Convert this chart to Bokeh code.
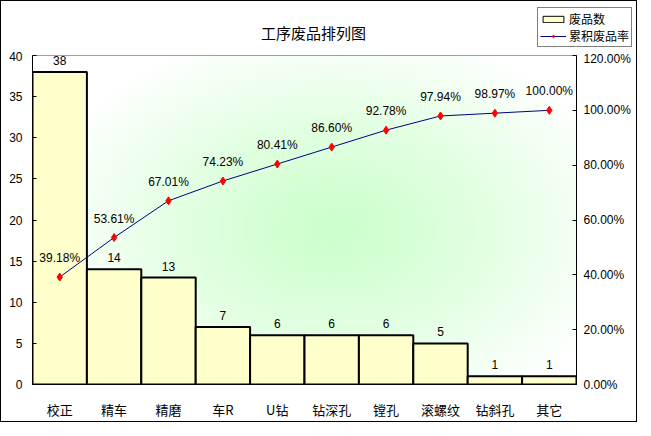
import numpy as np
from bokeh.plotting import figure
from bokeh.layouts import column
from bokeh.models import (ColumnDataSource, Range1d, FactorRange, LinearAxis,
                          FixedTicker, NumeralTickFormatter,
                          Legend, LegendItem, Label)
from bokeh.core.properties import value
from bokeh.embed import file_html
from bokeh.resources import INLINE

# ---- data ----
categories = ["校正", "精车", "精磨", "车R", "U钻", "钻深孔", "镗孔", "滚螺纹", "钻斜孔", "其它"]
counts = [38, 14, 13, 7, 6, 6, 6, 5, 1, 1]
cum_pct = [0.3918, 0.5361, 0.6701, 0.7423, 0.8041, 0.8660, 0.9278, 0.9794, 0.9897, 1.0000]
count_ticks = [0, 5, 10, 15, 20, 25, 30, 35, 40]
pct_ticks = [0.0, 0.2, 0.4, 0.6, 0.8, 1.0, 1.2]
title_text = "工序废品排列图"
series_names = ["废品数", "累积废品率"]

CJK = "Noto Sans CJK SC"
NUM = "Liberation Sans"
BAR_FILL = "#FFFFCC"
LINE_COL = "#000080"
MARK_COL = "red"

W = 635
TOP_H = 50
MAIN_H = 370

# ---------------- header: title + legend ----------------
head = figure(width=W, height=TOP_H, output_backend="svg", toolbar_location=None,
              x_range=Range1d(0, 1), y_range=Range1d(0, 1),
              x_axis_type=None, y_axis_type=None, min_border=0)
head.frame_align = False
head.outline_line_color = None
head.xgrid.visible = False
head.ygrid.visible = False
head.background_fill_color = "white"
head.border_fill_color = "white"

head.add_layout(Label(x=312, y=19, x_units="screen", y_units="screen",
                      text=title_text, text_align="center", text_baseline="middle",
                      text_font=CJK, text_font_size="15px", text_color="black"))

# legend proxies (NaN data: nothing drawn in the frame, only their style is used)
nan = [float("nan")]
proxy_bar = head.rect(x=nan, y=nan, width=1, height=1,
                      fill_color=BAR_FILL, line_color="black", line_width=1)
proxy_line = head.line(x=nan, y=nan, line_color=LINE_COL, line_width=1)
proxy_pt = head.scatter(x=nan, y=nan, marker="diamond", size=8,
                        fill_color=MARK_COL, line_color=MARK_COL)

legend = Legend(items=[LegendItem(label=series_names[0], renderers=[proxy_bar]),
                       LegendItem(label=series_names[1], renderers=[proxy_line, proxy_pt])],
                location=(536, 4), orientation="vertical",
                border_line_color="black", border_line_width=1,
                background_fill_color="white", background_fill_alpha=1,
                label_text_font=CJK, label_text_font_size="12px",
                label_text_color="black",
                glyph_width=26, glyph_height=8, label_standoff=3,
                padding=2, spacing=0, margin=0, label_height=14)
head.add_layout(legend, "center")

# ---------------- main chart ----------------
p = figure(width=W, height=MAIN_H, output_backend="svg", toolbar_location=None,
           x_range=FactorRange(factors=categories, range_padding=0),
           y_range=Range1d(0, 40),
           min_border_left=31, min_border_right=60, min_border_top=4, min_border_bottom=36)
p.frame_align = False
p.extra_y_ranges = {"pct": Range1d(0, 1.2)}

p.background_fill_color = "white"
p.border_fill_color = "white"
p.outline_line_color = "#808080"
p.outline_line_width = 1
p.xgrid.visible = False
p.ygrid.visible = False

# background radial gradient (style only)
ny, nx = 120, 200
yy, xx = np.mgrid[0:ny, 0:nx]
cx, cy = nx * 0.55, ny * 0.47
d = np.sqrt(((xx - cx) / (nx * 0.55)) ** 2 + ((yy - cy) / (ny * 0.62)) ** 2)
t = np.clip(d, 0, 1) ** 1.2
r = (204 + (255 - 204) * t).astype(np.uint32)
g = np.full_like(r, 255)
b = (204 + (255 - 204) * t).astype(np.uint32)
img = (255 << 24) | (b << 16) | (g << 8) | r
p.image_rgba(image=[img.astype(np.uint32)], x=0, y=0, dw=len(categories), dh=40)

src = ColumnDataSource(dict(cat=categories, cnt=counts,
                            cnt_txt=[str(c) for c in counts],
                            pct=cum_pct,
                            pct_txt=["%.2f%%" % (v * 100) for v in cum_pct]))

p.vbar(x="cat", top="cnt", width=1.0, source=src,
       fill_color=BAR_FILL, line_color="black", line_width=2)
p.line(x="cat", y="pct", source=src, y_range_name="pct",
       line_color=LINE_COL, line_width=1)
p.scatter(x="cat", y="pct", source=src, y_range_name="pct",
          marker="diamond", size=8, fill_color=MARK_COL, line_color=MARK_COL)

p.text(x="cat", y="cnt", text="cnt_txt", source=src, text_align="center",
       text_baseline="bottom", y_offset=-7, text_font=value(NUM),
       text_font_size="12px", text_color="black")
p.text(x="cat", y="pct", text="pct_txt", source=src, y_range_name="pct",
       text_align="center", text_baseline="bottom", y_offset=-12,
       text_font=value(NUM), text_font_size="12px", text_color="black")

# axes
xa = p.xaxis[0]
xa.major_tick_line_color = None
xa.minor_tick_line_color = None
xa.axis_line_color = "black"
xa.major_label_standoff = 9
xa.major_label_text_font = CJK
xa.major_label_text_font_size = "13px"
xa.major_label_text_color = "black"

ya = p.yaxis[0]
ya.ticker = FixedTicker(ticks=count_ticks)
ya.major_tick_in = 4
ya.major_tick_out = 0
ya.minor_tick_line_color = None
ya.axis_line_color = "black"
ya.major_label_standoff = 10
ya.major_label_text_font = NUM
ya.major_label_text_font_size = "12px"
ya.major_label_text_color = "black"

ra = LinearAxis(y_range_name="pct", ticker=FixedTicker(ticks=pct_ticks),
                formatter=NumeralTickFormatter(format="0.00%"))
ra.major_tick_in = 4
ra.major_tick_out = 0
ra.minor_tick_line_color = None
ra.axis_line_color = "black"
ra.major_label_standoff = 7
ra.major_label_text_font = NUM
ra.major_label_text_font_size = "12px"
ra.major_label_text_color = "black"
p.add_layout(ra, "right")

page = column(head, p, spacing=0, styles={"border": "1px solid black"})

open("out.html", "w").write(file_html(page, INLINE))
